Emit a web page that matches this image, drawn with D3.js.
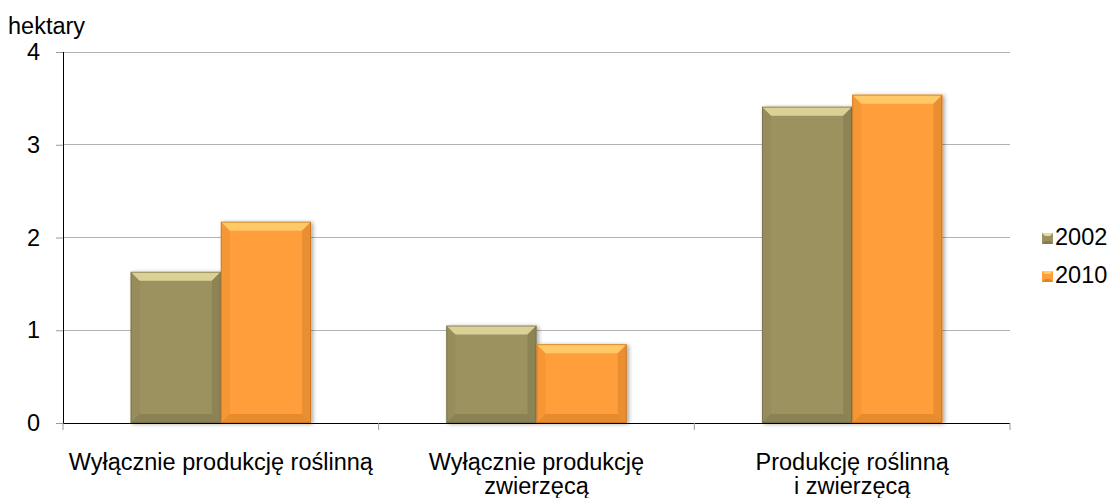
<!DOCTYPE html>
<html><head><meta charset="utf-8">
<script src="https://cdn.jsdelivr.net/npm/d3@7"></script>
<style>body{margin:0;background:#fff}svg{display:block;font-family:"Liberation Sans",Arial,sans-serif}</style>
</head><body>
<svg id="c" width="1115" height="498"></svg>
<script>
const categories = [["Wyłącznie produkcję roślinną"], ["Wyłącznie produkcję", "zwierzęcą"], ["Produkcję roślinną", "i zwierzęcą"]];
const categoryKeys = ["A", "B", "C"];
const seriesNames = ["2002", "2010"];
const values2002 = [1.63, 1.05, 3.41];
const values2010 = [2.17, 0.85, 3.54];
const yTicks = [0, 1, 2, 3, 4];

const colors = {"2002": {base: "#9c9260", light: "#e6dca0", dark: "#6b6440"},
                "2010": {base: "#ff9e3a", light: "#ffd070", dark: "#b86a1c"}};

const FS = 23.5;
const svg = d3.select("#c");
const L = 63, R = 1010, T = 52, B = 423;
const x = d3.scaleBand().domain(categoryKeys).range([L, R]).paddingInner(0).paddingOuter(0);
const y = d3.scaleLinear().domain([0, 4]).range([B, T]);
const bw = x.bandwidth();
const barW = bw / 3.5;
const xs = d3.scaleBand().domain(seriesNames).range([0, 2 * barW]);

// grid
svg.append("g").selectAll("line").data(yTicks.filter(d => d > 0)).join("line")
  .attr("x1", L).attr("x2", R).attr("y1", d => y(d)).attr("y2", d => y(d))
  .attr("stroke", "#b3b3b3").attr("stroke-width", 1).attr("shape-rendering", "crispEdges");

// y axis
const ya = svg.append("g").attr("transform", `translate(${L},0)`)
  .call(d3.axisLeft(y).tickValues(yTicks).tickSize(7).tickPadding(16).tickFormat(d3.format("d")));
ya.select(".domain").remove();
ya.selectAll(".tick line").attr("stroke", "#999");
ya.selectAll(".tick text").attr("font-size", FS).attr("fill", "#000").attr("font-family", "Liberation Sans, Arial, sans-serif");
svg.append("line").attr("x1", L).attr("x2", L).attr("y1", T).attr("y2", B).attr("stroke", "#000").attr("shape-rendering", "crispEdges");

svg.append("text").attr("x", 8).attr("y", 34).attr("font-size", FS).text("hektary");

// defs
const defs = svg.append("defs");
const f = defs.append("filter").attr("id", "sh").attr("x", "-10%").attr("y", "-10%").attr("width", "130%").attr("height", "130%");
f.append("feGaussianBlur").attr("in", "SourceAlpha").attr("stdDeviation", 2);
f.append("feOffset").attr("dx", 2).attr("dy", 1).attr("result", "b");
f.append("feComponentTransfer").append("feFuncA").attr("type", "linear").attr("slope", 0.35);
const fm = f.append("feMerge"); fm.append("feMergeNode"); fm.append("feMergeNode").attr("in", "SourceGraphic");

const data = [];
categoryKeys.forEach((k, i) => {
  data.push({cat: k, s: "2002", v: values2002[i]});
  data.push({cat: k, s: "2010", v: values2010[i]});
});

const bars = svg.append("g").selectAll("g").data(data).join("g").attr("filter", "url(#sh)");
bars.each(function(d) {
  const g = d3.select(this);
  const x0 = x(d.cat) + (bw - 2 * barW) / 2 + xs(d.s);
  const x1 = x0 + xs.bandwidth();
  const y0 = y(d.v), y1 = y(0);
  const c = colors[d.s];
  const bv = 9;
  g.append("rect").attr("x", x0).attr("y", y0).attr("width", x1 - x0).attr("height", y1 - y0).attr("fill", c.base);
  g.append("polygon").attr("points", `${x0},${y0} ${x1},${y0} ${x1 - bv},${y0 + bv} ${x0 + bv},${y0 + bv}`).attr("fill", c.light).attr("opacity", 0.85);
  g.append("polygon").attr("points", `${x0},${y1} ${x1},${y1} ${x1 - bv},${y1 - bv} ${x0 + bv},${y1 - bv}`).attr("fill", c.dark).attr("opacity", 0.35);
  g.append("polygon").attr("points", `${x0},${y0} ${x0 + bv},${y0 + bv} ${x0 + bv},${y1 - bv} ${x0},${y1}`).attr("fill", c.dark).attr("opacity", 0.12);
  g.append("polygon").attr("points", `${x1},${y0} ${x1 - bv},${y0 + bv} ${x1 - bv},${y1 - bv} ${x1},${y1}`).attr("fill", c.dark).attr("opacity", 0.3);
  g.append("rect").attr("x", x0 + 0.5).attr("y", y0 + 0.5).attr("width", x1 - x0 - 1).attr("height", y1 - y0 - 1)
    .attr("fill", "none").attr("stroke", c.dark).attr("stroke-opacity", 0.6);
});

// x axis
svg.append("line").attr("x1", L).attr("x2", R).attr("y1", B + 0.5).attr("y2", B + 0.5).attr("stroke", "#000");
const xt = [...categoryKeys.map(k => x(k)), R];
svg.append("g").selectAll("line").data(xt).join("line")
  .attr("x1", d => d).attr("x2", d => d).attr("y1", B).attr("y2", B + 7).attr("stroke", "#999");

const lab = svg.append("g").selectAll("text").data(categoryKeys).join("text")
  .attr("x", d => x(d) + bw / 2).attr("y", 470).attr("text-anchor", "middle").attr("font-size", FS);
lab.each(function(d, i) {
  d3.select(this).selectAll("tspan").data(categories[i]).join("tspan")
    .attr("x", x(d) + bw / 2).attr("dy", (t, j) => j === 0 ? 0 : 24).text(t => t);
});

// legend
const lg = svg.append("g").selectAll("g").data(seriesNames).join("g")
  .attr("transform", (d, i) => `translate(1042,${233 + i * 38})`);
lg.each(function(d) {
  const g = d3.select(this), c = colors[d], s = 11, b = 3;
  g.append("rect").attr("width", s).attr("height", s).attr("fill", c.base);
  g.append("polygon").attr("points", `0,0 ${s},0 ${s - b},${b} ${b},${b}`).attr("fill", c.light);
  g.append("polygon").attr("points", `0,${s} ${s},${s} ${s - b},${s - b} ${b},${s - b}`).attr("fill", c.dark).attr("opacity", 0.5);
  g.append("text").attr("x", 13).attr("y", 12).attr("font-size", FS).text(d);
});
</script>
</body></html>
